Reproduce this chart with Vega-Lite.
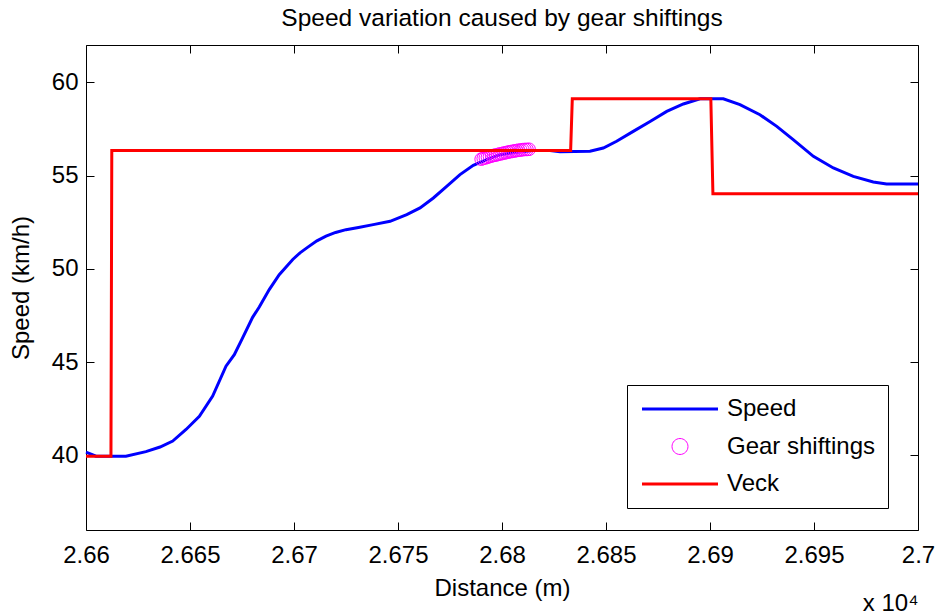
{
  "$schema": "https://vega.github.io/schema/vega-lite/v6.json",
  "width": 832,
  "height": 485,
  "autosize": {"type": "none"},
  "padding": {"left": 86, "top": 45, "right": 21, "bottom": 86},
  "background": "white",
  "title": {"text": "Speed variation caused by gear shiftings", "fontSize": 24.5, "fontWeight": "normal", "font": "Liberation Sans", "color": "black", "offset": 13, "anchor": "middle"},
  "data": {"values": [
    {"s": "Speed", "d": 26600, "v": 40.17},
    {"s": "Speed", "d": 26604.8, "v": 39.96},
    {"s": "Speed", "d": 26611.5, "v": 39.95},
    {"s": "Speed", "d": 26619.2, "v": 39.95},
    {"s": "Speed", "d": 26628.8, "v": 40.2},
    {"s": "Speed", "d": 26635.6, "v": 40.45},
    {"s": "Speed", "d": 26641.7, "v": 40.77},
    {"s": "Speed", "d": 26648.1, "v": 41.39},
    {"s": "Speed", "d": 26654.5, "v": 42.1},
    {"s": "Speed", "d": 26660.9, "v": 43.18},
    {"s": "Speed", "d": 26667.3, "v": 44.78},
    {"s": "Speed", "d": 26671.3, "v": 45.4},
    {"s": "Speed", "d": 26675.3, "v": 46.3},
    {"s": "Speed", "d": 26680.1, "v": 47.4},
    {"s": "Speed", "d": 26683.3, "v": 47.95},
    {"s": "Speed", "d": 26688.1, "v": 48.89},
    {"s": "Speed", "d": 26692.9, "v": 49.69},
    {"s": "Speed", "d": 26699.4, "v": 50.5},
    {"s": "Speed", "d": 26702.9, "v": 50.86},
    {"s": "Speed", "d": 26706.5, "v": 51.15},
    {"s": "Speed", "d": 26711.0, "v": 51.5},
    {"s": "Speed", "d": 26715.4, "v": 51.75},
    {"s": "Speed", "d": 26720.0, "v": 51.95},
    {"s": "Speed", "d": 26725.0, "v": 52.1},
    {"s": "Speed", "d": 26731.0, "v": 52.22},
    {"s": "Speed", "d": 26738.1, "v": 52.37},
    {"s": "Speed", "d": 26746.2, "v": 52.55},
    {"s": "Speed", "d": 26754.2, "v": 52.91},
    {"s": "Speed", "d": 26760.6, "v": 53.27},
    {"s": "Speed", "d": 26767.0, "v": 53.8},
    {"s": "Speed", "d": 26773.4, "v": 54.42},
    {"s": "Speed", "d": 26779.8, "v": 55.05},
    {"s": "Speed", "d": 26786.2, "v": 55.55},
    {"s": "Speed", "d": 26792.6, "v": 55.85},
    {"s": "Speed", "d": 26799.0, "v": 56.12},
    {"s": "Speed", "d": 26807.1, "v": 56.25},
    {"s": "Speed", "d": 26815.0, "v": 56.35},
    {"s": "Speed", "d": 26823.1, "v": 56.35},
    {"s": "Speed", "d": 26827.9, "v": 56.28},
    {"s": "Speed", "d": 26842.3, "v": 56.3},
    {"s": "Speed", "d": 26848.7, "v": 56.48},
    {"s": "Speed", "d": 26855.1, "v": 56.84},
    {"s": "Speed", "d": 26863.1, "v": 57.37},
    {"s": "Speed", "d": 26871.2, "v": 57.9},
    {"s": "Speed", "d": 26879.2, "v": 58.44},
    {"s": "Speed", "d": 26887.2, "v": 58.84},
    {"s": "Speed", "d": 26895.2, "v": 59.12},
    {"s": "Speed", "d": 26906.4, "v": 59.12},
    {"s": "Speed", "d": 26914.4, "v": 58.8},
    {"s": "Speed", "d": 26924.0, "v": 58.26},
    {"s": "Speed", "d": 26932.1, "v": 57.64},
    {"s": "Speed", "d": 26940.0, "v": 56.93},
    {"s": "Speed", "d": 26949.7, "v": 56.03},
    {"s": "Speed", "d": 26959.3, "v": 55.41},
    {"s": "Speed", "d": 26968.9, "v": 54.96},
    {"s": "Speed", "d": 26978.5, "v": 54.66},
    {"s": "Speed", "d": 26984.9, "v": 54.55},
    {"s": "Speed", "d": 27000, "v": 54.55},
    {"s": "Gear shiftings", "d": 26790.0, "v": 55.88},
    {"s": "Gear shiftings", "d": 26791.0, "v": 55.92},
    {"s": "Gear shiftings", "d": 26792.0, "v": 55.95},
    {"s": "Gear shiftings", "d": 26793.0, "v": 55.98},
    {"s": "Gear shiftings", "d": 26794.0, "v": 56.02},
    {"s": "Gear shiftings", "d": 26795.0, "v": 56.05},
    {"s": "Gear shiftings", "d": 26796.0, "v": 56.08},
    {"s": "Gear shiftings", "d": 26797.0, "v": 56.1},
    {"s": "Gear shiftings", "d": 26798.0, "v": 56.13},
    {"s": "Gear shiftings", "d": 26799.0, "v": 56.16},
    {"s": "Gear shiftings", "d": 26800.0, "v": 56.18},
    {"s": "Gear shiftings", "d": 26801.0, "v": 56.21},
    {"s": "Gear shiftings", "d": 26802.0, "v": 56.23},
    {"s": "Gear shiftings", "d": 26803.0, "v": 56.26},
    {"s": "Gear shiftings", "d": 26804.0, "v": 56.28},
    {"s": "Gear shiftings", "d": 26805.0, "v": 56.3},
    {"s": "Gear shiftings", "d": 26806.0, "v": 56.32},
    {"s": "Gear shiftings", "d": 26807.0, "v": 56.34},
    {"s": "Gear shiftings", "d": 26808.0, "v": 56.36},
    {"s": "Gear shiftings", "d": 26809.0, "v": 56.37},
    {"s": "Gear shiftings", "d": 26810.0, "v": 56.39},
    {"s": "Gear shiftings", "d": 26811.0, "v": 56.4},
    {"s": "Gear shiftings", "d": 26812.0, "v": 56.4},
    {"s": "Gear shiftings", "d": 26813.0, "v": 56.41},
    {"s": "Veck", "d": 26600, "v": 39.95},
    {"s": "Veck", "d": 26612.0, "v": 39.95},
    {"s": "Veck", "d": 26612.4, "v": 56.35},
    {"s": "Veck", "d": 26833.0, "v": 56.35},
    {"s": "Veck", "d": 26833.8, "v": 59.12},
    {"s": "Veck", "d": 26900.4, "v": 59.12},
    {"s": "Veck", "d": 26901.4, "v": 54.02},
    {"s": "Veck", "d": 27000, "v": 54.02}
  ]},
  "resolve": {"axis": {"x": "independent", "y": "independent"}},
  "layer": [
    {
      "transform": [{"filter": "datum.s === 'Speed'"}],
      "mark": {"type": "line", "strokeWidth": 3, "interpolate": "linear"},
      "encoding": {
        "x": {"field": "d", "type": "quantitative",
          "scale": {"domain": [26600, 27000], "nice": false, "zero": false},
          "axis": {"orient": "bottom", "values": [26600, 26650, 26700, 26750, 26800, 26850, 26900, 26950, 27000],
            "labelExpr": "format(datum.value/10000, '.3~f')", "offset": -8, "tickSize": 8, "labelPadding": 13, "labelFlush": false, "labelOverlap": false,
            "domain": false, "grid": false, "title": "Distance (m)", "titlePadding": 9}},
        "y": {"field": "v", "type": "quantitative",
          "scale": {"domain": [36, 62], "nice": false, "zero": false},
          "axis": {"orient": "left", "values": [40, 45, 50, 55, 60], "offset": -8, "tickSize": 8, "labelPadding": 8, "labelOverlap": false,
            "domain": false, "grid": false, "title": "Speed (km/h)", "titlePadding": 18}},
        "color": {"field": "s", "type": "nominal",
          "scale": {"domain": ["Speed", "Gear shiftings", "Veck"], "range": ["#0000ff", "#ff00ff", "#ff0000"]},
          "legend": {"title": null, "orient": "none", "legendX": 541, "legendY": 340, "padding": 12,
            "symbolSize": 361, "symbolOffset": 29, "labelOffset": 35, "rowPadding": 13.5,
            "labelFontSize": 24, "labelFont": "Liberation Sans", "labelColor": "black",
            "strokeColor": "black", "fillColor": "white", "cornerRadius": 0, "symbolStrokeWidth": 3,
            "encode": {"symbols": {"update": {
              "shape": {"signal": "datum.value === 'Gear shiftings' ? 'M0.84,0A0.84,0.84,0,1,1,-0.84,0A0.84,0.84,0,1,1,0.84,0Z' : 'M-4,0H4'"},
              "strokeWidth": {"signal": "datum.value === 'Gear shiftings' ? 1 : 3"},
              "fill": {"value": "transparent"},
              "stroke": {"scale": "color", "field": "value"},
              "opacity": {"value": 1}
            }}}}}
      }
    },
    {
      "transform": [{"filter": "datum.s === 'Gear shiftings'"}],
      "mark": {"type": "point", "shape": "circle", "filled": false, "size": 160, "strokeWidth": 1, "opacity": 1},
      "encoding": {
        "x": {"field": "d", "type": "quantitative",
          "scale": {"domain": [26600, 27000], "nice": false, "zero": false},
          "axis": {"orient": "bottom", "labels": false, "ticks": false, "domain": false, "grid": false,
            "title": "x 10⁴", "titleAnchor": "end", "titlePadding": 61}},
        "y": {"field": "v", "type": "quantitative",
          "scale": {"domain": [36, 62], "nice": false, "zero": false}, "axis": null},
        "color": {"field": "s", "type": "nominal",
          "scale": {"domain": ["Speed", "Gear shiftings", "Veck"], "range": ["#0000ff", "#ff00ff", "#ff0000"]}}
      }
    },
    {
      "transform": [{"filter": "datum.s === 'Veck'"}],
      "mark": {"type": "line", "strokeWidth": 3, "interpolate": "linear"},
      "encoding": {
        "x": {"field": "d", "type": "quantitative",
          "scale": {"domain": [26600, 27000], "nice": false, "zero": false},
          "axis": {"orient": "top", "values": [26600, 26650, 26700, 26750, 26800, 26850, 26900, 26950, 27000],
            "labels": false, "offset": -8, "tickSize": 8, "domain": false, "grid": false, "title": null}},
        "y": {"field": "v", "type": "quantitative",
          "scale": {"domain": [36, 62], "nice": false, "zero": false},
          "axis": {"orient": "right", "values": [40, 45, 50, 55, 60], "labels": false, "offset": -8, "tickSize": 8,
            "domain": false, "grid": false, "title": null}},
        "color": {"field": "s", "type": "nominal",
          "scale": {"domain": ["Speed", "Gear shiftings", "Veck"], "range": ["#0000ff", "#ff00ff", "#ff0000"]}}
      }
    }
  ],
  "config": {
    "font": "Liberation Sans",
    "view": {"stroke": "black", "strokeWidth": 1},
    "axis": {"labelFontSize": 24, "labelFont": "Liberation Sans", "labelColor": "black", "tickColor": "black", "tickWidth": 1,
      "titleFontSize": 24, "titleFont": "Liberation Sans", "titleFontWeight": "normal", "titleColor": "black"}
  }
}
